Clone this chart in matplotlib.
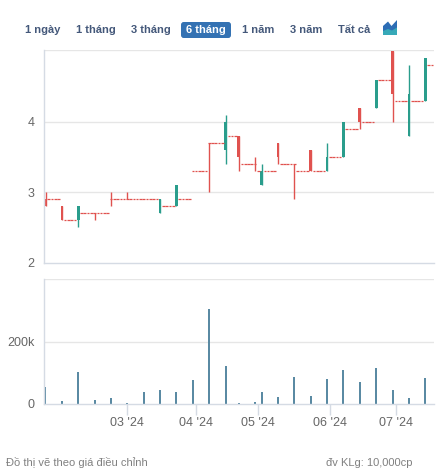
"""Biểu đồ nến 6 tháng + khối lượng (dữ liệu ngày, cổ phiếu thanh khoản thấp)."""

import matplotlib

matplotlib.use("Agg")
import matplotlib.pyplot as plt  # noqa: E402
import pandas as pd  # noqa: E402
from matplotlib.patches import FancyBboxPatch, Polygon, Rectangle  # noqa: E402

plt.rcParams["font.family"] = ["Liberation Sans", "DejaVu Sans"]

# các phiên có khớp lệnh
session_dates = [
    "2024-01-19", "2024-01-26", "2024-02-02", "2024-02-16", "2024-02-23",
    "2024-03-01", "2024-03-08", "2024-03-15", "2024-03-22", "2024-03-29",
    "2024-04-05", "2024-04-12", "2024-04-19", "2024-04-26", "2024-05-03",
    "2024-05-10", "2024-05-17", "2024-05-24", "2024-05-31", "2024-06-07",
    "2024-06-14", "2024-06-21", "2024-06-28", "2024-07-05", "2024-07-12",
]
session_open = [2.9, 2.8, 2.6, 2.7, 2.9, 2.9, 2.9, 2.7, 2.8, 3.3, 3.7, 3.6, 3.8,
                3.4, 3.1, 3.7, 3.4, 3.6, 3.3, 3.5, 4.2, 4.2, 5.0, 3.8, 4.3]
session_high = [3.0, 2.8, 2.8, 2.7, 3.0, 3.0, 2.9, 2.9, 3.1, 3.3, 3.7, 4.1, 3.8,
                3.5, 3.4, 3.7, 3.4, 3.6, 3.7, 4.0, 4.2, 4.6, 5.0, 4.8, 4.9]
session_low = [2.8, 2.6, 2.5, 2.6, 2.8, 2.9, 2.9, 2.7, 2.8, 3.3, 3.0, 3.4, 3.3,
               3.3, 3.1, 3.4, 2.9, 3.3, 3.3, 3.5, 3.9, 4.2, 4.0, 3.8, 4.3]
session_close = [2.8, 2.6, 2.8, 2.7, 2.9, 2.9, 2.9, 2.9, 3.1, 3.3, 3.7, 4.0, 3.5,
                 3.4, 3.3, 3.5, 3.4, 3.3, 3.5, 4.0, 4.0, 4.6, 4.4, 4.4, 4.9]
session_volume = [53, 10, 101, 13, 20, 3, 39, 46, 39, 77, 303, 123, 2,
                  5, 39, 22, 88, 26, 81, 110, 71, 116, 45, 19, 84]  # nghìn cp
# giá tham chiếu cho các ngày không khớp lệnh sau mỗi phiên
ref_price = [2.9, 2.6, 2.7, 2.7, 2.9, 2.9, 2.9, 2.8, 2.9, 3.3, 3.7, 3.8, 3.4,
             3.3, 3.3, 3.4, 3.3, 3.3, 3.5, 3.9, 4.0, 4.6, 4.3, 4.3, 4.8]

holidays = ["2024-02-08", "2024-02-09", "2024-02-12", "2024-02-13", "2024-02-14",
            "2024-04-18", "2024-04-29", "2024-04-30", "2024-05-01"]
range_buttons = ["1 ngày", "1 tháng", "3 tháng", "6 tháng", "1 năm", "3 năm", "Tất cả"]
selected_button = "6 tháng"

UP = "#2a9d8c"
DOWN = "#e0524f"
VOL = "#5a8aa3"
GRID = "#e6e6e6"
AXIS = "#d5dbe4"
LABEL = "#666666"

W, H = 445, 472


def fx(px):
    return px / W


def fy(py):
    return 1 - py / H


days = pd.bdate_range("2024-01-19", "2024-07-16")
days = days[~days.isin(pd.to_datetime(holidays))]
sessions = {pd.Timestamp(d): k for k, d in enumerate(session_dates)}

fig = plt.figure(figsize=(W / 100, H / 100), dpi=100)
ax_p = fig.add_axes([fx(44), fy(262.7), fx(433.5) - fx(44), fy(50) - fy(262.7)])
ax_v = fig.add_axes([fx(44), fy(404), fx(433.5) - fx(44), fy(279) - fy(404)])

last = None
for i, d in enumerate(days):
    if d in sessions:
        k = sessions[d]
        last = k
        o, h, l, c = (session_open[k], session_high[k], session_low[k], session_close[k])
        ax_v.bar(i, session_volume[k] * 1000, width=0.6, color=VOL, linewidth=0)
    else:
        o = h = l = c = ref_price[last]
    color = UP if c > o else DOWN
    if h > l:
        ax_p.vlines(i, l, h, color=color, linewidth=1.0)
    if c != o:
        ax_p.add_patch(Rectangle((i - 0.42, min(o, c)), 0.84, abs(c - o),
                                 facecolor=color, edgecolor="none"))
    else:
        ax_p.hlines(o, i - 0.4, i + 0.4, color=color, linewidth=0.9)

xmin, xmax = -0.46, len(days) - 0.5
for ax in (ax_p, ax_v):
    ax.set_xlim(xmin, xmax)
    for side in ("top", "right"):
        ax.spines[side].set_visible(False)
    for side in ("left", "bottom"):
        ax.spines[side].set_color(AXIS)
        ax.spines[side].set_linewidth(1)
    ax.tick_params(axis="y", length=0, pad=7, labelsize=9, labelcolor=LABEL)
    ax.set_axisbelow(True)

ax_p.set_ylim(2, 5.02)
ax_p.set_yticks([2, 3, 4])
ax_p.set_yticklabels(["2", "3", "4"])
for g in (3, 4, 5.02):
    ax_p.axhline(g, color=GRID, linewidth=1, zorder=0)
ax_p.set_xticks([])

ax_v.set_ylim(0, 400000)
ax_v.set_yticks([0, 200000])
ax_v.set_yticklabels(["0", "200k"])
for g in (200000, 400000):
    ax_v.axhline(g, color=GRID, linewidth=1, zorder=0)

month_first = pd.Series(range(len(days)), index=days).groupby(days.to_period("M")).first()
month_first = month_first[month_first.index >= pd.Period("2024-03")]
ax_v.set_xticks(month_first.values)
ax_v.set_xticklabels([p.strftime("%m '%y") for p in month_first.index])
ax_v.tick_params(axis="x", length=8, width=1, color=AXIS, pad=1.5,
                 labelsize=9, labelcolor=LABEL)

# thanh chọn khoảng thời gian
centers = [43, 96, 151, 206, 258, 306, 354]
for name, cx in zip(range_buttons, centers):
    if name == selected_button:
        fig.patches.append(FancyBboxPatch(
            (fx(cx - 25), fy(38)), fx(50), fy(22) - fy(38),
            boxstyle="round,pad=0,rounding_size=0.006",
            transform=fig.transFigure, facecolor="#3472b3", edgecolor="none"))
        fig.text(fx(cx), fy(30), name, ha="center", va="center", fontsize=8,
                 fontweight="bold", color="white")
    else:
        fig.text(fx(cx), fy(30), name, ha="center", va="center", fontsize=8,
                 fontweight="bold", color="#44587a")

top_icon = [(383, 35), (383, 26), (388, 21.5), (391.5, 26), (397, 20), (397, 35)]
low_icon = [(383, 35), (383, 31), (388, 29), (392, 30.5), (397, 27.5), (397, 35)]
fig.patches.append(Polygon([(fx(x), fy(y)) for x, y in top_icon], closed=True,
                           transform=fig.transFigure, facecolor="#2d6db5",
                           edgecolor="none"))
fig.patches.append(Polygon([(fx(x), fy(y)) for x, y in low_icon], closed=True,
                           transform=fig.transFigure, facecolor="#37a9b8",
                           edgecolor="none"))

fig.text(fx(6), fy(463), "Đồ thị vẽ theo giá điều chỉnh", ha="left", va="center",
         fontsize=8, color="#808080")
fig.text(fx(412), fy(463), "đv KLg: 10,000cp", ha="right", va="center",
         fontsize=8, color="#808080")

fig.savefig("out.png", dpi=100)
plt.close(fig)
